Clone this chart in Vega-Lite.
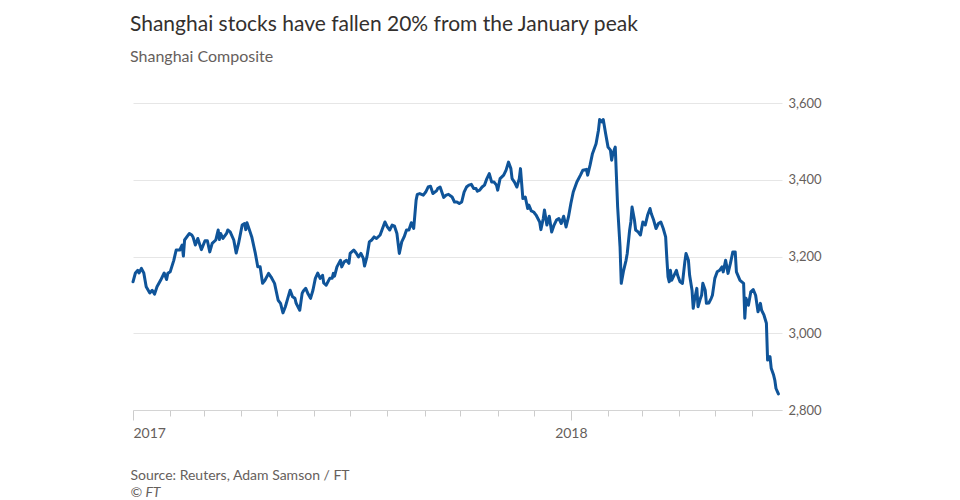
{
  "$schema": "https://vega.github.io/schema/vega-lite/v6.json",
  "width": 649,
  "height": 307,
  "autosize": {"type": "none"},
  "padding": {"left": 133, "top": 103, "right": 178, "bottom": 90},
  "background": "white",
  "title": {
    "text": "Shanghai stocks have fallen 20% from the January peak",
    "subtitle": "Shanghai Composite",
    "anchor": "start",
    "frame": "group",
    "dx": -3,
    "offset": 32,
    "font": "Lato",
    "fontSize": 21,
    "fontWeight": "normal",
    "color": "#33302e",
    "subtitleFont": "Lato",
    "subtitleFontSize": 16,
    "subtitleColor": "#66605c",
    "subtitlePadding": 14
  },
  "config": {"view": {"stroke": null}},
  "data": {"values": [
    {"date":"2017-01-01","close":3134},{"date":"2017-01-03","close":3157},{"date":"2017-01-05","close":3164},{"date":"2017-01-06","close":3157},{"date":"2017-01-08","close":3169},{"date":"2017-01-10","close":3157},{"date":"2017-01-12","close":3121},{"date":"2017-01-15","close":3105},{"date":"2017-01-17","close":3112},{"date":"2017-01-19","close":3102},{"date":"2017-01-21","close":3121},{"date":"2017-01-24","close":3138},{"date":"2017-01-27","close":3157},{"date":"2017-01-29","close":3140},{"date":"2017-01-30","close":3156},
    {"date":"2017-02-01","close":3160},{"date":"2017-02-04","close":3190},{"date":"2017-02-06","close":3217},{"date":"2017-02-09","close":3217},{"date":"2017-02-11","close":3230},{"date":"2017-02-12","close":3201},{"date":"2017-02-13","close":3243},{"date":"2017-02-17","close":3260},{"date":"2017-02-19","close":3256},{"date":"2017-02-20","close":3251},{"date":"2017-02-22","close":3230},{"date":"2017-02-24","close":3247},{"date":"2017-02-27","close":3218},
    {"date":"2017-03-02","close":3241},{"date":"2017-03-04","close":3241},{"date":"2017-03-06","close":3212},{"date":"2017-03-08","close":3234},{"date":"2017-03-11","close":3243},{"date":"2017-03-13","close":3269},{"date":"2017-03-14","close":3244},{"date":"2017-03-15","close":3260},{"date":"2017-03-17","close":3247},{"date":"2017-03-20","close":3260},{"date":"2017-03-21","close":3269},{"date":"2017-03-23","close":3264},{"date":"2017-03-26","close":3243},{"date":"2017-03-28","close":3209},{"date":"2017-03-30","close":3234},
    {"date":"2017-04-02","close":3282},{"date":"2017-04-04","close":3286},{"date":"2017-04-05","close":3270},{"date":"2017-04-06","close":3288},{"date":"2017-04-08","close":3270},{"date":"2017-04-10","close":3251},{"date":"2017-04-13","close":3208},{"date":"2017-04-15","close":3173},{"date":"2017-04-17","close":3173},{"date":"2017-04-19","close":3130},{"date":"2017-04-21","close":3138},{"date":"2017-04-24","close":3156},{"date":"2017-04-26","close":3147},{"date":"2017-04-29","close":3130},
    {"date":"2017-05-02","close":3086},{"date":"2017-05-04","close":3078},{"date":"2017-05-06","close":3053},{"date":"2017-05-08","close":3069},{"date":"2017-05-10","close":3091},{"date":"2017-05-12","close":3112},{"date":"2017-05-14","close":3095},{"date":"2017-05-16","close":3091},{"date":"2017-05-17","close":3078},{"date":"2017-05-20","close":3060},{"date":"2017-05-22","close":3104},{"date":"2017-05-23","close":3110},{"date":"2017-05-25","close":3117},{"date":"2017-05-27","close":3102},{"date":"2017-05-29","close":3091},{"date":"2017-05-31","close":3112},
    {"date":"2017-06-02","close":3143},{"date":"2017-06-04","close":3157},{"date":"2017-06-06","close":3143},{"date":"2017-06-08","close":3151},{"date":"2017-06-09","close":3131},{"date":"2017-06-11","close":3125},{"date":"2017-06-14","close":3143},{"date":"2017-06-16","close":3143},{"date":"2017-06-17","close":3156},{"date":"2017-06-18","close":3149},{"date":"2017-06-20","close":3173},{"date":"2017-06-23","close":3190},{"date":"2017-06-24","close":3173},{"date":"2017-06-26","close":3186},{"date":"2017-06-28","close":3190},{"date":"2017-06-30","close":3182},
    {"date":"2017-07-01","close":3208},{"date":"2017-07-04","close":3217},{"date":"2017-07-06","close":3209},{"date":"2017-07-08","close":3199},{"date":"2017-07-10","close":3208},{"date":"2017-07-12","close":3195},{"date":"2017-07-13","close":3175},{"date":"2017-07-15","close":3199},{"date":"2017-07-17","close":3238},{"date":"2017-07-19","close":3243},{"date":"2017-07-21","close":3251},{"date":"2017-07-23","close":3247},{"date":"2017-07-26","close":3256},{"date":"2017-07-28","close":3273},{"date":"2017-07-30","close":3290},
    {"date":"2017-08-01","close":3277},{"date":"2017-08-03","close":3269},{"date":"2017-08-05","close":3282},{"date":"2017-08-07","close":3279},{"date":"2017-08-09","close":3260},{"date":"2017-08-11","close":3208},{"date":"2017-08-13","close":3238},{"date":"2017-08-15","close":3251},{"date":"2017-08-17","close":3269},{"date":"2017-08-19","close":3269},{"date":"2017-08-21","close":3288},{"date":"2017-08-23","close":3273},{"date":"2017-08-25","close":3347},{"date":"2017-08-26","close":3362},{"date":"2017-08-28","close":3364},{"date":"2017-08-31","close":3360},
    {"date":"2017-09-02","close":3368},{"date":"2017-09-04","close":3381},{"date":"2017-09-06","close":3383},{"date":"2017-09-08","close":3364},{"date":"2017-09-11","close":3371},{"date":"2017-09-12","close":3377},{"date":"2017-09-14","close":3381},{"date":"2017-09-17","close":3354},{"date":"2017-09-19","close":3360},{"date":"2017-09-21","close":3362},{"date":"2017-09-24","close":3355},{"date":"2017-09-26","close":3342},{"date":"2017-09-28","close":3342},{"date":"2017-09-30","close":3338},
    {"date":"2017-10-02","close":3342},{"date":"2017-10-04","close":3368},{"date":"2017-10-06","close":3381},{"date":"2017-10-08","close":3386},{"date":"2017-10-10","close":3388},{"date":"2017-10-12","close":3377},{"date":"2017-10-14","close":3377},{"date":"2017-10-15","close":3370},{"date":"2017-10-17","close":3373},{"date":"2017-10-19","close":3381},{"date":"2017-10-21","close":3386},{"date":"2017-10-23","close":3403},{"date":"2017-10-25","close":3416},{"date":"2017-10-27","close":3394},{"date":"2017-10-29","close":3394},{"date":"2017-10-31","close":3386},
    {"date":"2017-11-01","close":3373},{"date":"2017-11-03","close":3403},{"date":"2017-11-06","close":3412},{"date":"2017-11-08","close":3425},{"date":"2017-11-10","close":3446},{"date":"2017-11-12","close":3429},{"date":"2017-11-13","close":3403},{"date":"2017-11-15","close":3394},{"date":"2017-11-17","close":3381},{"date":"2017-11-19","close":3403},{"date":"2017-11-20","close":3429},{"date":"2017-11-22","close":3351},{"date":"2017-11-24","close":3355},{"date":"2017-11-26","close":3325},{"date":"2017-11-27","close":3334},{"date":"2017-11-29","close":3319},
    {"date":"2017-12-01","close":3316},{"date":"2017-12-03","close":3308},{"date":"2017-12-06","close":3290},{"date":"2017-12-07","close":3270},{"date":"2017-12-09","close":3299},{"date":"2017-12-10","close":3321},{"date":"2017-12-12","close":3282},{"date":"2017-12-14","close":3305},{"date":"2017-12-16","close":3264},{"date":"2017-12-18","close":3282},{"date":"2017-12-20","close":3295},{"date":"2017-12-22","close":3299},{"date":"2017-12-24","close":3286},{"date":"2017-12-26","close":3305},{"date":"2017-12-28","close":3277},{"date":"2017-12-30","close":3303},
    {"date":"2018-01-01","close":3338},{"date":"2018-01-03","close":3368},{"date":"2018-01-06","close":3394},{"date":"2018-01-09","close":3412},{"date":"2018-01-11","close":3425},{"date":"2018-01-14","close":3427},{"date":"2018-01-15","close":3412},{"date":"2018-01-17","close":3438},{"date":"2018-01-19","close":3468},{"date":"2018-01-22","close":3494},{"date":"2018-01-24","close":3529},{"date":"2018-01-25","close":3557},{"date":"2018-01-27","close":3551},{"date":"2018-01-28","close":3557},{"date":"2018-01-30","close":3520},
    {"date":"2018-02-01","close":3485},{"date":"2018-02-03","close":3477},{"date":"2018-02-04","close":3451},{"date":"2018-02-05","close":3468},{"date":"2018-02-07","close":3485},{"date":"2018-02-08","close":3407},{"date":"2018-02-09","close":3329},{"date":"2018-02-11","close":3225},{"date":"2018-02-12","close":3130},{"date":"2018-02-14","close":3164},{"date":"2018-02-16","close":3190},{"date":"2018-02-17","close":3208},{"date":"2018-02-19","close":3269},{"date":"2018-02-20","close":3290},{"date":"2018-02-21","close":3329},{"date":"2018-02-23","close":3295},{"date":"2018-02-24","close":3269},{"date":"2018-02-26","close":3264},{"date":"2018-02-28","close":3256},
    {"date":"2018-03-01","close":3273},{"date":"2018-03-02","close":3290},{"date":"2018-03-04","close":3282},{"date":"2018-03-06","close":3308},{"date":"2018-03-08","close":3325},{"date":"2018-03-09","close":3312},{"date":"2018-03-11","close":3295},{"date":"2018-03-13","close":3273},{"date":"2018-03-15","close":3286},{"date":"2018-03-17","close":3290},{"date":"2018-03-19","close":3273},{"date":"2018-03-21","close":3251},{"date":"2018-03-22","close":3195},{"date":"2018-03-23","close":3147},{"date":"2018-03-24","close":3134},{"date":"2018-03-25","close":3164},{"date":"2018-03-26","close":3138},{"date":"2018-03-28","close":3151},{"date":"2018-03-30","close":3164},{"date":"2018-03-31","close":3151},
    {"date":"2018-04-02","close":3134},{"date":"2018-04-04","close":3130},{"date":"2018-04-06","close":3186},{"date":"2018-04-07","close":3208},{"date":"2018-04-09","close":3190},{"date":"2018-04-10","close":3151},{"date":"2018-04-12","close":3112},{"date":"2018-04-13","close":3065},{"date":"2018-04-14","close":3086},{"date":"2018-04-16","close":3117},{"date":"2018-04-17","close":3069},{"date":"2018-04-19","close":3091},{"date":"2018-04-20","close":3099},{"date":"2018-04-21","close":3130},{"date":"2018-04-23","close":3112},{"date":"2018-04-24","close":3078},{"date":"2018-04-26","close":3079},{"date":"2018-04-28","close":3091},{"date":"2018-04-29","close":3099},
    {"date":"2018-05-01","close":3143},{"date":"2018-05-03","close":3160},{"date":"2018-05-05","close":3164},{"date":"2018-05-07","close":3173},{"date":"2018-05-08","close":3160},{"date":"2018-05-10","close":3190},{"date":"2018-05-12","close":3156},{"date":"2018-05-14","close":3182},{"date":"2018-05-16","close":3212},{"date":"2018-05-18","close":3212},{"date":"2018-05-19","close":3160},{"date":"2018-05-22","close":3138},{"date":"2018-05-25","close":3130},{"date":"2018-05-26","close":3039},{"date":"2018-05-27","close":3091},{"date":"2018-05-29","close":3073},{"date":"2018-05-31","close":3108},
    {"date":"2018-06-02","close":3114},{"date":"2018-06-04","close":3099},{"date":"2018-06-06","close":3056},{"date":"2018-06-08","close":3078},{"date":"2018-06-09","close":3060},{"date":"2018-06-11","close":3047},{"date":"2018-06-13","close":3026},{"date":"2018-06-14","close":2930},{"date":"2018-06-16","close":2939},{"date":"2018-06-17","close":2909},{"date":"2018-06-19","close":2891},{"date":"2018-06-20","close":2878},{"date":"2018-06-21","close":2856},{"date":"2018-06-23","close":2842}
  ]},
  "mark": {"type": "line", "color": "#0f5499", "strokeWidth": 3, "strokeJoin": "round", "strokeCap": "round"},
  "encoding": {
    "x": {
      "field": "date",
      "type": "temporal",
      "scale": {"type": "utc", "domain": [{"year": 2017, "month": 1, "date": 1, "utc": true}, {"year": 2018, "month": 6, "date": 26, "utc": true}]},
      "axis": {
        "orient": "bottom",
        "tickCount": {"interval": "month", "step": 1},
        "labelExpr": "utcmonth(datum.value) == 0 ? utcFormat(datum.value, '%Y') : ''",
        "tickSize": {"condition": {"test": "utcmonth(datum.value) == 0", "value": 10}, "value": 6},
        "labelAlign": {"condition": {"test": "utcyear(datum.value) == 2017", "value": "left"}, "value": "center"},
        "labelFlush": false,
        "labelOverlap": false,
        "labelPadding": 6,
        "labelFont": "Lato",
        "labelFontSize": 14,
        "labelColor": "#66605c",
        "domainColor": "#d4d4d4",
        "tickColor": "#cccccc",
        "grid": false,
        "title": "Source: Reuters, Adam Samson / FT",
        "titleX": -3,
        "titleY": 69,
        "titleAlign": "left",
        "titleAnchor": "start",
        "titleBaseline": "alphabetic",
        "titleFont": "Lato",
        "titleFontSize": 14,
        "titleFontWeight": "normal",
        "titleColor": "#66605c"
      }
    },
    "y": {
      "field": "close",
      "type": "quantitative",
      "scale": {"domain": [2800, 3600], "zero": false},
      "axis": {
        "orient": "right",
        "values": [2800, 3000, 3200, 3400, 3600],
        "format": ",.0f",
        "domain": false,
        "ticks": false,
        "grid": true,
        "gridColor": "#e6e6e6",
        "labelPadding": 6,
        "labelFont": "Lato",
        "labelFontSize": 13,
        "labelColor": "#66605c",
        "title": "© FT",
        "titleAngle": 0,
        "titleX": -652,
        "titleY": 393,
        "titleAlign": "left",
        "titleBaseline": "alphabetic",
        "titleFont": "Lato",
        "titleFontSize": 14,
        "titleFontStyle": "italic",
        "titleFontWeight": "normal",
        "titleColor": "#66605c"
      }
    }
  }
}
